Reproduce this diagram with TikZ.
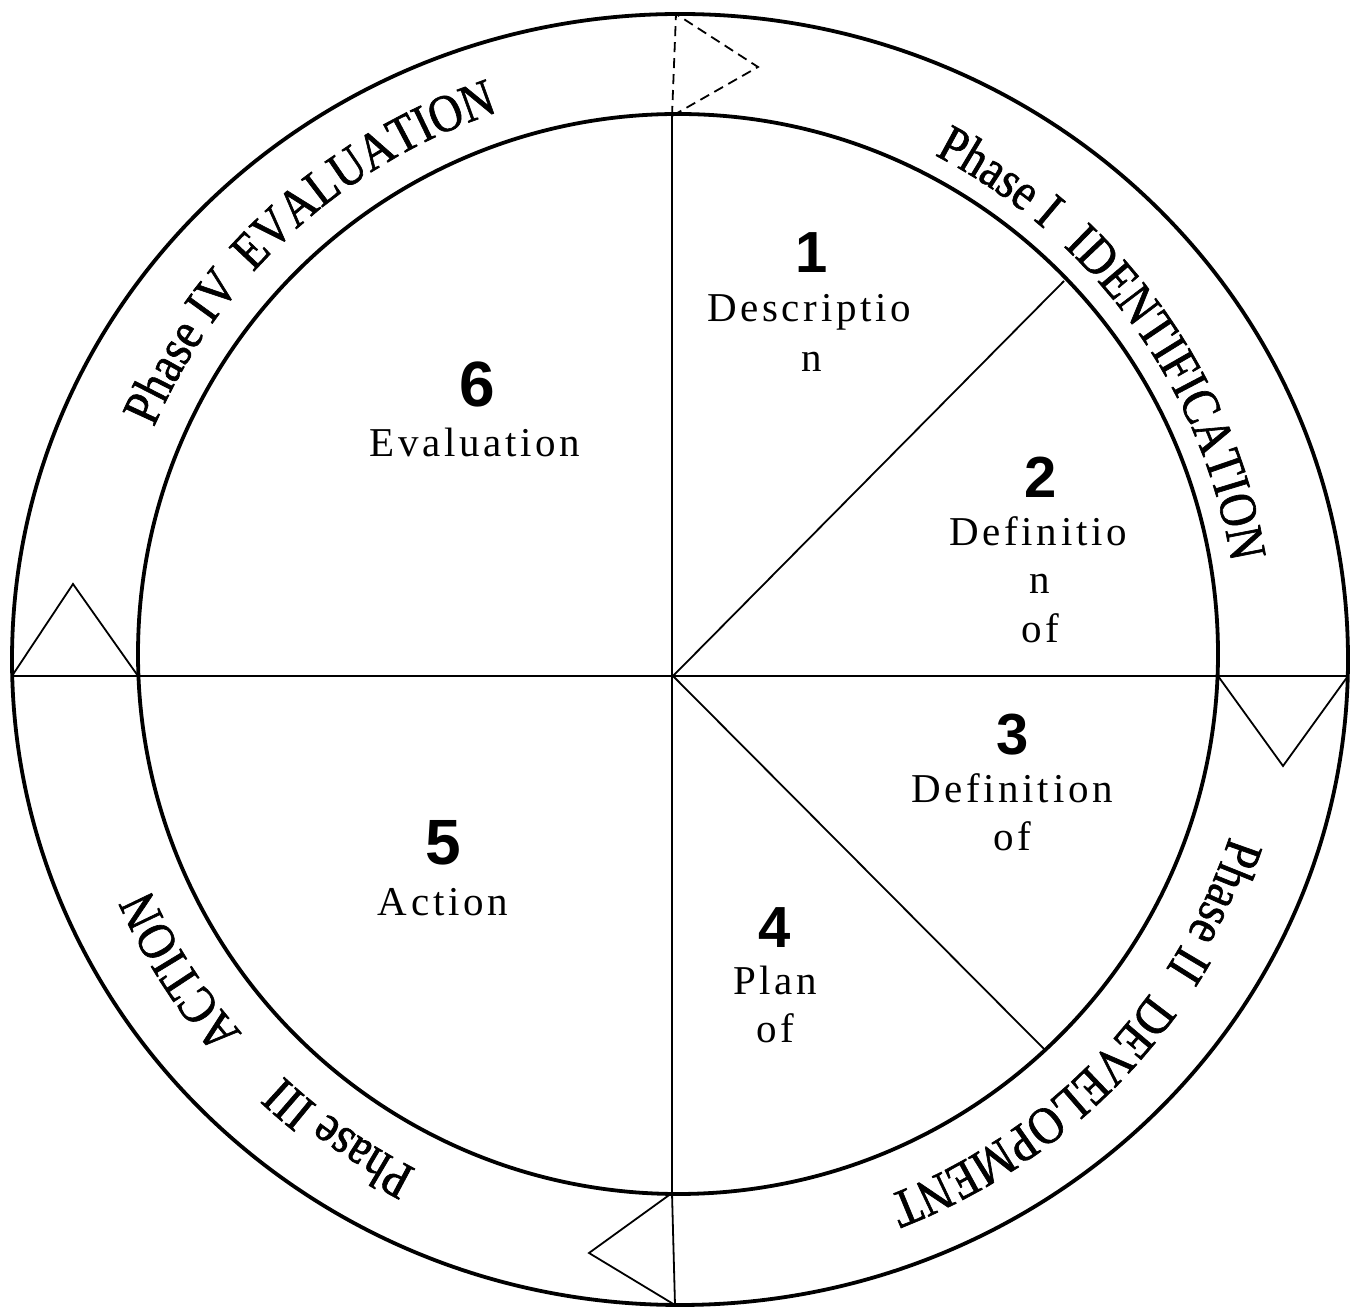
\documentclass[tikz,border=0pt]{standalone}
\usepackage{fontspec}
\setmainfont{Liberation Serif}
\newfontfamily\ringfam[FakeStretch=0.86,FakeBold=1.2]{Liberation Serif}
\newfontfamily\numfam{Liberation Sans}
\newfontfamily\wordfam[LetterSpace=9]{Liberation Serif}
\usetikzlibrary{decorations.text}
\newcommand\ringword[3]{%
  \pgfmathsetmacro\rwa{#1+25}\pgfmathsetmacro\rwb{#1-25}%
  \path[decorate,decoration={text along path,text align=center,
    text={|\ringfam\fontsize{53}{56}\selectfont|#3}}]
    ([shift={(\rwa:#2)}]C) arc[start angle=\rwa,end angle=\rwb,radius=#2];}
\begin{document}
\begin{tikzpicture}[x=1pt,y=1pt,
  ringline/.style={line width=3.8pt},
  spoke/.style={line width=1.8pt},
  dashspoke/.style={line width=1.8pt,dash pattern=on 10pt off 6pt},
  num/.style={font=\numfam\bfseries\fontsize{58}{60}\selectfont,anchor=base,inner sep=0pt},
  bignum/.style={font=\numfam\bfseries\fontsize{64}{66}\selectfont,anchor=base,inner sep=0pt},
  word/.style={font=\wordfam\fontsize{41}{50}\selectfont,anchor=base,inner sep=0pt}]
\useasboundingbox (0,0) rectangle (1353,1307);
% centres
\coordinate (C) at (678,653);
\coordinate (O) at (680,647.5);
\coordinate (M) at (673,631);
% spoke ends
\coordinate (Ltop) at (672,1191);
\coordinate (Lbot) at (672,114);
\coordinate (D1) at (1064,1026);
\coordinate (D2) at (1045,257);
\coordinate (OutL) at (12,631);
\coordinate (InL) at (138,631);
\coordinate (InR) at (1218,631);
\coordinate (OutR) at (1348,631);
% triangle points
\coordinate (OutTop) at (676,1293);
\coordinate (TopApex) at (758,1240);
\coordinate (LApex) at (73,723);
\coordinate (RApex) at (1283,541);
\coordinate (OutBot) at (675,2);
\coordinate (BotApex) at (589,54);
% rings
\draw[ringline] (O) ellipse [x radius=668,y radius=645.5];
\draw[ringline] (C) circle [radius=540];
% spokes
\draw[spoke] (OutL) -- (OutR);
\draw[spoke] (Ltop) -- (Lbot);
\draw[spoke] (M) -- (D1);
\draw[spoke] (M) -- (D2);
% triangles
\draw[dashspoke] (Ltop) -- (OutTop) -- (TopApex) -- cycle;
\draw[spoke,line join=miter] (OutL) -- (LApex) -- (InL);
\draw[spoke,line join=miter] (InR) -- (RApex) -- (OutR);
\draw[spoke,line join=miter] (Lbot) -- (OutBot) -- (BotApex) -- cycle;
% ring texts
\ringword{56}{561}{Phase I}
\ringword{28}{561}{IDENTIFICATION}
\ringword{-25.6}{581}{Phase II}
\ringword{-52.3}{581}{DEVELOPMENT}
\ringword{-125}{578}{Phase III}
\ringword{-147.5}{578}{ACTION}
\ringword{148.3}{571}{Phase IV}
\ringword{123.2}{571}{EVALUATION}
% sector labels
\node[num] (n1) at (812,1034) {1};
\node[word] (w1a) at (809,985) {Descriptio};
\node[word] (w1b) at (812,935) {n};
\node[num] (n2) at (1041,809) {2};
\node[word] (w2a) at (1038,761) {Definitio};
\node[word] (w2b) at (1040,713) {n};
\node[word] (w2c) at (1040,664) {of};
\node[num] (n3) at (1013,552) {3};
\node[word] (w3a) at (1012,504) {Definition};
\node[word] (w3b) at (1012,456) {of};
\node[num] (n4) at (775,359) {4};
\node[word] (w4a) at (775,312) {Plan};
\node[word] (w4b) at (775,264) {of};
\node[bignum] (n5) at (443,442) {5};
\node[word] (w5a) at (443,391) {Action};
\node[bignum] (n6) at (477,900) {6};
\node[word] (w6a) at (475,850) {Evaluation};
\end{tikzpicture}
\end{document}
